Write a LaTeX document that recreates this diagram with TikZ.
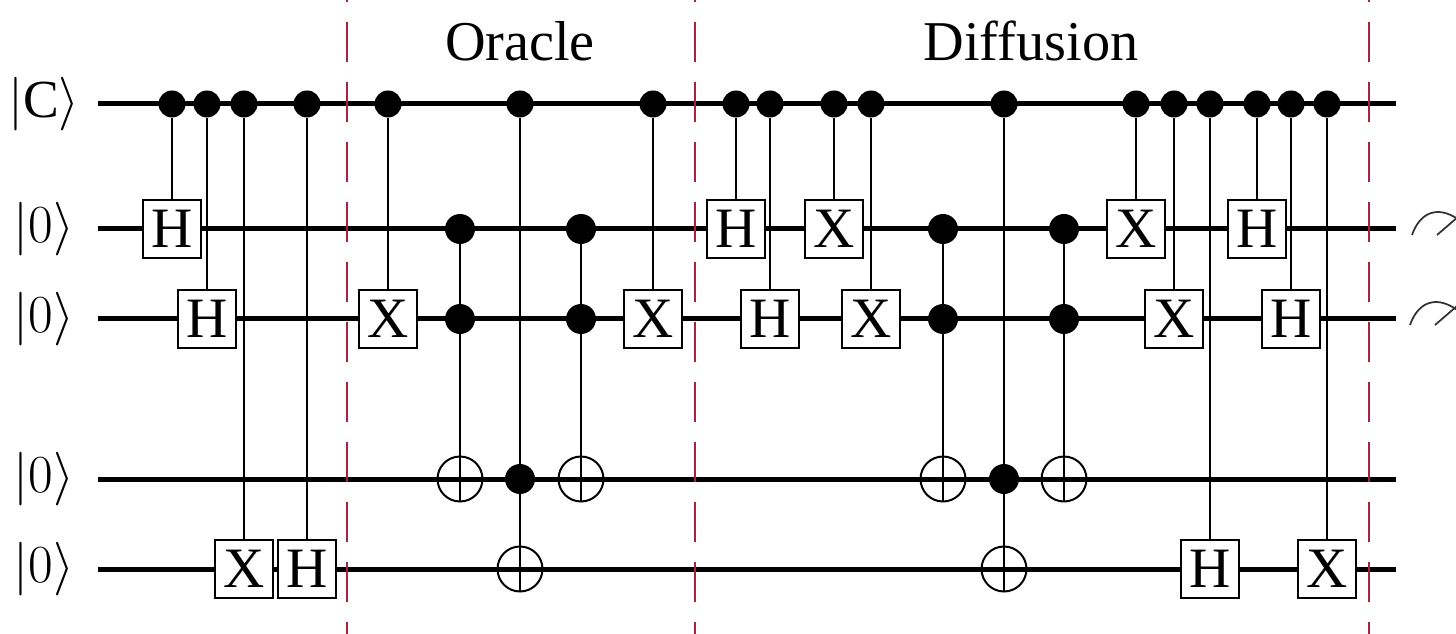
\documentclass[tikz,border=0pt]{standalone}
\usepackage{fix-cm}
\usepackage{fontspec}
\setmainfont{Liberation Serif}
\definecolor{cutred}{RGB}{165,35,65}
\tikzset{
  wire/.style={line width=0.1cm},
  conn/.style={line width=0.04cm},
  cut/.style={line width=0.04cm, cutred, dash pattern=on 0.8cm off 0.4cm, dash phase=0.76cm},
  gate/.style={draw, fill=white, line width=0.04cm, minimum size=1.16cm, inner sep=0pt, font=\fontsize{32.5}{34}\selectfont},
  ctrl/.style={circle, fill=black, minimum size=0.54cm, inner sep=0pt},
  bigctrl/.style={circle, fill=black, minimum size=0.6cm, inner sep=0pt},
  target/.style={circle, draw, line width=0.04cm, minimum size=0.9cm, inner sep=0pt},
  ket/.style={inner sep=0pt, font=\fontsize{30.5}{32}\selectfont},
  title/.style={inner sep=0pt, anchor=base, font=\fontsize{32}{34}\selectfont},
  meter/.style={line width=0.035cm, black!80}
}
\begin{document}
\begin{tikzpicture}[x=0.02cm,y=-0.02cm]
  \useasboundingbox (0,0) rectangle (1456,634);
  % wires
  \foreach \n/\y/\t in {1/104/\mathrm{C},2/229/0,3/319/0,4/479/0,5/569/0}{
    \node[ket] (k\n) at (44,\y) {$|\t\rangle$};
    \coordinate (l\n) at (98,\y);
    \coordinate (r\n) at (1396,\y);
    \draw[wire] (l\n) -- (r\n);
  }
  % section cuts
  \foreach \n/\x in {1/347,2/695,3/1369}{
    \coordinate (p\n) at (\x,0);
    \coordinate (q\n) at (\x,634);
    \draw[cut] (p\n) -- (q\n);
  }
  \node[title] (oracle) at (520,61) {Oracle};
  \node[title] (diffusion) at (1031,61) {Diffusion};
  % controlled gates
  \foreach \n/\x/\y/\t in {1/172/229/H,2/207/319/H,3/244/569/X,4/307/569/H,5/388/319/X,6/653/319/X,
    7/736/229/H,8/770/319/H,9/834/229/X,10/871/319/X,11/1136/229/X,12/1174/319/X,
    13/1210/569/H,14/1257/229/H,15/1291/319/H,16/1327/569/X}{
    \node[ctrl] (c\n) at (\x,104) {};
    \node[gate] (g\n) at (\x,\y) {\t};
    \draw[conn] (c\n) -- (g\n);
  }
  % double controls
  \foreach \n/\x in {1/460,2/581,3/943,4/1064}{
    \node[bigctrl] (a\n) at (\x,229) {};
    \node[bigctrl] (b\n) at (\x,319) {};
    \node[target] (t\n) at (\x,479) {};
    \draw[conn] (a\n) -- (t\n.south);
  }
  % top control and cnot
  \foreach \n/\x in {1/520,2/1004}{
    \node[ctrl] (u\n) at (\x,104) {};
    \node[bigctrl] (v\n) at (\x,479) {};
    \node[target] (w\n) at (\x,569) {};
    \draw[conn] (u\n) -- (w\n.south);
  }
  % meters, cut by the page edge
  \begin{scope}
    \clip (0,0) rectangle (1456,634);
    \foreach \n/\x/\y in {1/1412/235,2/1410/325}{
      \begin{scope}[shift={(\x,\y)}]
        \draw[meter] (0,0) .. controls (6,-17) and (16,-23) .. (26,-23) .. controls (34,-23) and (42,-19) .. (50,-13);
        \draw[meter] (25,0) -- (47,-19);
      \end{scope}
    }
  \end{scope}
\end{tikzpicture}
\end{document}
